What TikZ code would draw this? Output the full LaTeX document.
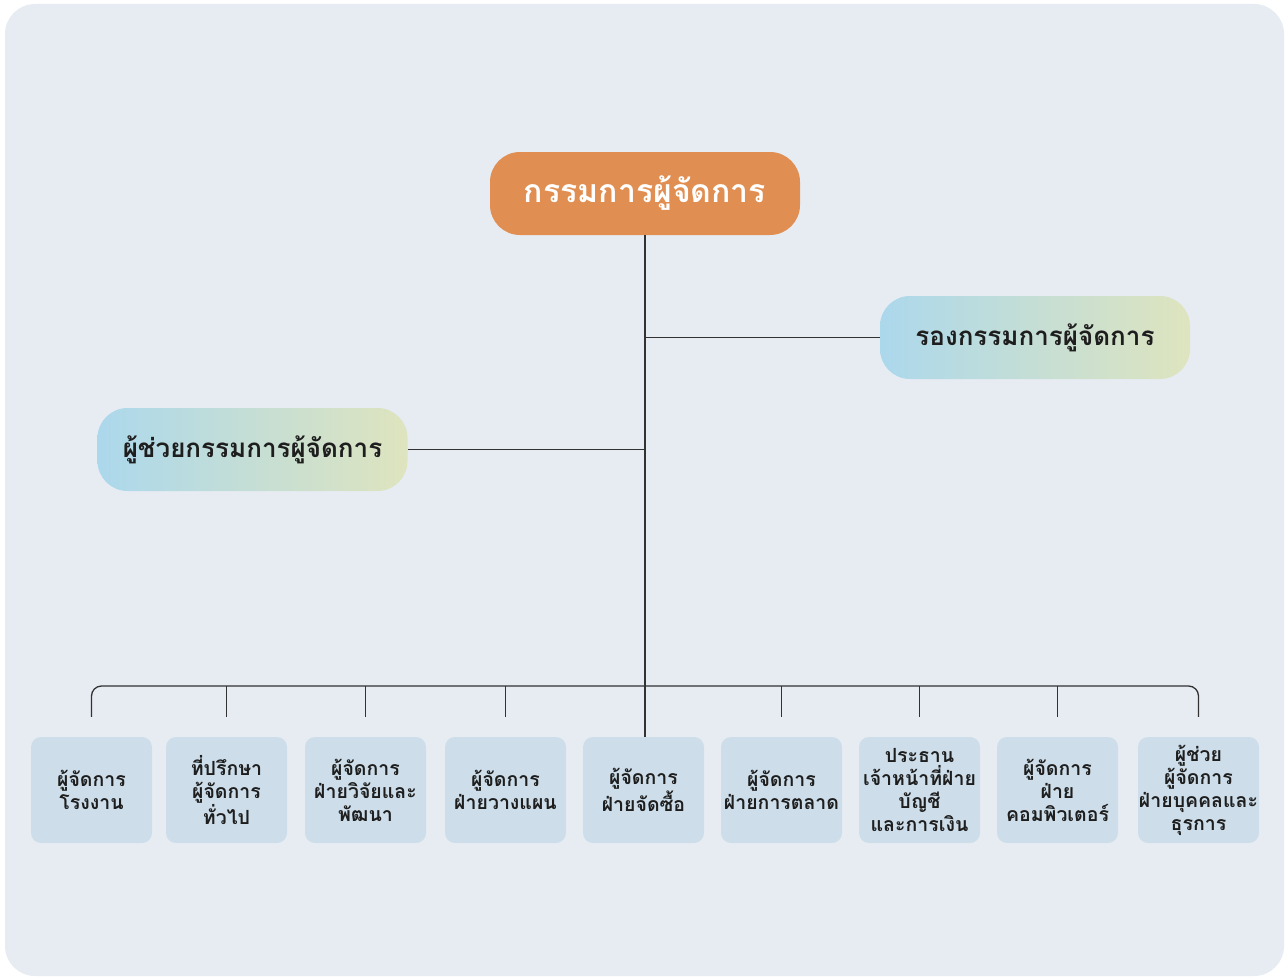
\documentclass[tikz,border=0pt]{standalone}
\usepackage{fontspec}
\setmainfont[Script=Thai]{Loma}
\usetikzlibrary{positioning}
\definecolor{BgGray}{RGB}{231,236,243}
\definecolor{MDOrange}{RGB}{224,142,82}
\definecolor{GradBlue}{RGB}{172,216,236}
\definecolor{GradGreen}{RGB}{222,228,190}
\definecolor{DeptBlue}{RGB}{205,222,234}
\definecolor{LineGray}{RGB}{50,50,50}
\definecolor{TextDark}{RGB}{30,30,30}
\tikzset{
    topnode/.style={
        rounded corners=30pt, fill=MDOrange, minimum width=310pt, minimum height=83pt,
        text=white, font=\fontsize{32}{36}\selectfont\bfseries, inner sep=0pt
    },
    subnode/.style={
        rounded corners=30pt, left color=GradBlue, right color=GradGreen,
        minimum width=310pt, minimum height=83pt,
        text=TextDark, font=\fontsize{26}{30}\selectfont\bfseries, inner sep=0pt
    },
    deptnode/.style={
        rounded corners=10pt, fill=DeptBlue, minimum width=121pt, minimum height=106pt,
        text width=121pt, align=center, text=TextDark,
        font=\fontsize{19.5}{23}\selectfont\bfseries, inner sep=0pt
    },
    link/.style={
        line width=1.3pt, LineGray
    }
}
\begin{document}
\begin{tikzpicture}[x=1pt, y=-1pt]
    \useasboundingbox (0,0) rectangle (1287,979);
    \fill[white] (0,0) rectangle (1287,979);
    \fill[BgGray, rounded corners=30pt] (5,4) rectangle (1284,976);

    % top levels
    \node[topnode] (md) at (645,193.5) {กรรมการผู้จัดการ};
    \node[subnode] (vice) at (1035,337.5) {รองกรรมการผู้จัดการ};
    \node[subnode] (asst) at (252.5,449.5) {ผู้ช่วยกรรมการผู้จัดการ};

    % departments
    \node[deptnode] (plant) at (91.5,790) {ผู้จัดการ\\โรงงาน};
    \node[deptnode] (advisor) at (226.5,790) {ที่ปรึกษา\\ผู้จัดการ\\ทั่วไป};
    \node[deptnode] (rnd) at (365.5,790) {ผู้จัดการ\\ฝ่ายวิจัยและ\\พัฒนา};
    \node[deptnode] (plan) at (505.5,790) {ผู้จัดการ\\ฝ่ายวางแผน};
    \node[deptnode] (purchase) at (643.5,790) {ผู้จัดการ\\ฝ่ายจัดซื้อ};
    \node[deptnode] (market) at (781.5,790) {ผู้จัดการ\\ฝ่ายการตลาด};
    \node[deptnode] (finance) at (919.5,790) {ประธาน\\เจ้าหน้าที่ฝ่าย\\บัญชี\\และการเงิน};
    \node[deptnode] (computer) at (1057.5,790) {ผู้จัดการ\\ฝ่าย\\คอมพิวเตอร์};
    \node[deptnode] (hr) at (1198.5,790) {ผู้ช่วย\\ผู้จัดการ\\ฝ่ายบุคคลและ\\ธุรการ};

    % trunk and side branches
    \coordinate (bus) at (645,686);
    \draw[link] (md.south) -- (md.south |- purchase.north);
    \draw[link] (md.south |- vice.west) -- (vice.west);
    \draw[link] (asst.east) -- (md.south |- asst.east);

    % bus to departments
    \draw[link, rounded corners=10pt, shorten <=20pt, shorten >=20pt]
        (plant.north) -- (plant.north |- bus) -- (hr.north |- bus) -- (hr.north);
    \draw[link, shorten >=20pt] (advisor.north |- bus) -- (advisor.north);
    \draw[link, shorten >=20pt] (rnd.north |- bus) -- (rnd.north);
    \draw[link, shorten >=20pt] (plan.north |- bus) -- (plan.north);
    \draw[link, shorten >=20pt] (market.north |- bus) -- (market.north);
    \draw[link, shorten >=20pt] (finance.north |- bus) -- (finance.north);
    \draw[link, shorten >=20pt] (computer.north |- bus) -- (computer.north);
\end{tikzpicture}
\end{document}
